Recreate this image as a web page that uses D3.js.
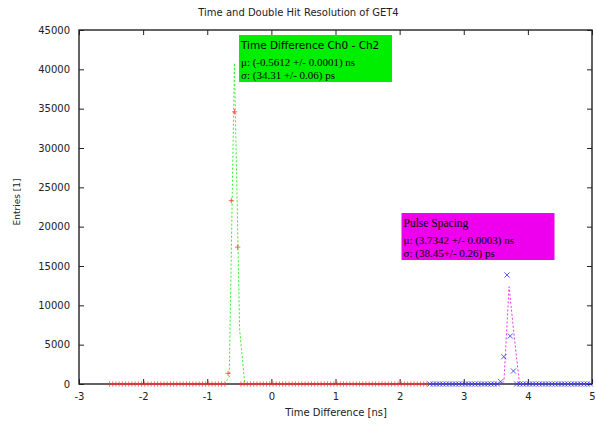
<!DOCTYPE html>
<html>
<head>
<meta charset="utf-8">
<script src="https://cdn.jsdelivr.net/npm/d3@7"></script>
<style>
  html, body { margin: 0; padding: 0; background: #fff; }
  svg { display: block; }
</style>
</head>
<body>
<svg id="chart" width="596" height="424"></svg>
<script>
// ---- data -------------------------------------------------------------
const xTicks = [-3, -2, -1, 0, 1, 2, 3, 4, 5];
const yTicks = [0, 5000, 10000, 15000, 20000, 25000, 30000, 35000, 40000, 45000];

// Histogram: time difference between channel 0 and channel 2 (ns, entries)
const diffX = [
  -2.525,-2.475,-2.425,-2.375,-2.325,-2.275,-2.225,-2.175,-2.125,-2.075,
  -2.025,-1.975,-1.925,-1.875,-1.825,-1.775,-1.725,-1.675,-1.625,-1.575,
  -1.525,-1.475,-1.425,-1.375,-1.325,-1.275,-1.225,-1.175,-1.125,-1.075,
  -1.025,-0.975,-0.925,-0.875,-0.825,-0.775,-0.725,-0.675,-0.625,-0.575,
  -0.525,-0.475,-0.425,-0.375,-0.325,-0.275,-0.225,-0.175,-0.125,-0.075,
  -0.025, 0.025, 0.075, 0.125, 0.175, 0.225, 0.275, 0.325, 0.375, 0.425,
   0.475, 0.525, 0.575, 0.625, 0.675, 0.725, 0.775, 0.825, 0.875, 0.925,
   0.975, 1.025, 1.075, 1.125, 1.175, 1.225, 1.275, 1.325, 1.375, 1.425,
   1.475, 1.525, 1.575, 1.625, 1.675, 1.725, 1.775, 1.825, 1.875, 1.925,
   1.975, 2.025, 2.075, 2.125, 2.175, 2.225, 2.275, 2.325, 2.375, 2.425
];
const diffY = [
  0,0,0,0,0,0,0,0,0,0,
  0,0,0,0,0,0,0,0,0,0,
  0,0,0,0,0,0,0,0,0,0,
  0,0,0,0,0,0,0,1360,23300,34600,
  17400,0,0,0,0,0,0,0,0,0,
  0,0,0,0,0,0,0,0,0,0,
  0,0,0,0,0,0,0,0,0,0,
  0,0,0,0,0,0,0,0,0,0,
  0,0,0,0,0,0,0,0,0,0,
  0,0,0,0,0,0,0,0,0,0
];

// Histogram: spacing between two consecutive pulses (ns, entries)
const pulseX = [
  2.475,2.525,2.575,2.625,2.675,2.725,2.775,2.825,2.875,2.925,
  2.975,3.025,3.075,3.125,3.175,3.225,3.275,3.325,3.375,3.425,
  3.475,3.525,3.575,3.625,3.675,3.725,3.775,3.825,3.875,3.925,
  3.975,4.025,4.075,4.125,4.175,4.225,4.275,4.325,4.375,4.425,
  4.475,4.525,4.575,4.625,4.675,4.725,4.775,4.825,4.875,4.925,
  4.975
];
const pulseY = [
  0,0,0,0,0,0,0,0,0,0,
  0,0,0,0,0,0,0,0,0,0,
  0,0,290,3470,13860,6100,1650,0,0,0,
  0,0,0,0,0,0,0,0,0,0,
  0,0,0,0,0,0,0,0,0,0,
  0
];

// Sampled Gaussian fit curves
const fitDiffX = [-0.737, -0.657, -0.576, -0.495, -0.414];
const fitDiffY = [0, 900, 40800, 6900, 0];
const fitPulseX = [3.545, 3.626, 3.707, 3.788, 3.869, 3.949];
const fitPulseY = [0, 300, 12370, 5980, 60, 0];

const diffLabel = ["Time Difference Ch0 - Ch2", "\u03BC: (-0.5612 +/- 0.0001) ns", "\u03C3: (34.31 +/- 0.06) ps"];
const pulseLabel = ["Pulse Spacing", "\u03BC: (3.7342 +/- 0.0003) ns", "\u03C3: (38.45+/- 0.26) ps"];

// ---- layout -----------------------------------------------------------
const svg = d3.select("#chart");
const W = 596, H = 424;
const m = { left: 79, right: 4, top: 30, bottom: 40 };
const x = d3.scaleLinear().domain([-3, 5]).range([m.left, W - m.right]);
const y = d3.scaleLinear().domain([0, 45000]).range([H - m.bottom, m.top]);

const sans = "DejaVu Sans, sans-serif";
const serif = "Liberation Serif, Times New Roman, serif";
const ink = "#222";
const plain = d => String(d);   // plain hyphen-minus, no thousands separator

svg.append("rect").attr("width", W).attr("height", H).attr("fill", "#fff");

// title
svg.append("text")
  .attr("x", (m.left + W - m.right) / 2 - 37).attr("y", 16)
  .attr("text-anchor", "middle")
  .attr("font-family", sans).attr("font-size", 10).attr("fill", ink)
  .text("Time and Double Hit Resolution of GET4");

// axes (ticks point inward, mirrored on the opposite side)
const tickLen = 5;
function styleAxis(g) {
  g.select(".domain").remove();
  g.selectAll("line").attr("stroke", ink).attr("stroke-width", 1);
  g.selectAll("text").attr("font-family", sans).attr("font-size", 10).attr("fill", ink);
}
svg.append("g").attr("transform", `translate(0,${y(0)})`)
  .call(d3.axisBottom(x).tickValues(xTicks).tickSize(-tickLen).tickPadding(9).tickFormat(plain))
  .call(styleAxis);
svg.append("g").attr("transform", `translate(0,${y(45000)})`)
  .call(d3.axisTop(x).tickValues(xTicks).tickSize(-tickLen).tickFormat(""))
  .call(styleAxis);
svg.append("g").attr("transform", `translate(${x(-3)},0)`)
  .call(d3.axisLeft(y).tickValues(yTicks).tickSize(-tickLen).tickPadding(9).tickFormat(plain))
  .call(styleAxis);
svg.append("g").attr("transform", `translate(${x(5)},0)`)
  .call(d3.axisRight(y).tickValues(yTicks).tickSize(-tickLen).tickFormat(""))
  .call(styleAxis);

// frame
svg.append("rect")
  .attr("x", x(-3)).attr("y", y(45000))
  .attr("width", x(5) - x(-3)).attr("height", y(0) - y(45000))
  .attr("fill", "none").attr("stroke", ink).attr("stroke-width", 1.4);

// axis titles
svg.append("text")
  .attr("x", 336).attr("y", 416).attr("text-anchor", "middle")
  .attr("font-family", sans).attr("font-size", 10).attr("fill", ink)
  .text("Time Difference [ns]");
svg.append("text")
  .attr("transform", `translate(20,${202}) rotate(-90)`)
  .attr("text-anchor", "middle")
  .attr("font-family", sans).attr("font-size", 9).attr("fill", ink)
  .text("Entries [1]");

// fit curves
const line = d3.line().x(d => x(d[0])).y(d => y(d[1]));
svg.append("path")
  .datum(fitDiffX.map((v, i) => [v, fitDiffY[i]]))
  .attr("d", line).attr("fill", "none")
  .attr("stroke", "#33ee33").attr("stroke-width", 1).attr("stroke-dasharray", "2,2");
svg.append("path")
  .datum(fitPulseX.map((v, i) => [v, fitPulseY[i]]))
  .attr("d", line).attr("fill", "none")
  .attr("stroke", "#ee33ee").attr("stroke-width", 1).attr("stroke-dasharray", "2,2");

// histogram points: "+" for time difference, "x" for pulse spacing
const s = 2.6;
svg.append("g").selectAll("path")
  .data(diffX.map((v, i) => [v, diffY[i]]))
  .join("path")
  .attr("d", d => `M${x(d[0]) - s},${y(d[1])}h${2 * s}M${x(d[0])},${y(d[1]) - s}v${2 * s}`)
  .attr("stroke", "#ff3030").attr("stroke-width", 1).attr("stroke-opacity", 0.75).attr("fill", "none");
svg.append("g").selectAll("path")
  .data(pulseX.map((v, i) => [v, pulseY[i]]))
  .join("path")
  .attr("d", d => `M${x(d[0]) - s},${y(d[1]) - s}l${2 * s},${2 * s}M${x(d[0]) - s},${y(d[1]) + s}l${2 * s},${-2 * s}`)
  .attr("stroke", "#3030ff").attr("stroke-width", 1).attr("stroke-opacity", 0.8).attr("fill", "none");

// labelled result boxes
function resultBox(px, py, w, h, fill, lines, firstSans, firstSize) {
  svg.append("rect").attr("x", px).attr("y", py).attr("width", w).attr("height", h).attr("fill", fill);
  const t = svg.append("g").attr("fill", "#000");
  t.append("text").attr("x", px + 2).attr("y", py + 14)
    .attr("font-family", firstSans ? sans : serif).attr("font-size", firstSize)
    .text(lines[0]);
  t.append("text").attr("x", px + 2).attr("y", py + 31)
    .attr("font-family", serif).attr("font-size", 11).text(lines[1]);
  t.append("text").attr("x", px + 2).attr("y", py + 43.5)
    .attr("font-family", serif).attr("font-size", 11).text(lines[2]);
}
resultBox(239, 35, 153, 47, "#00ee00", diffLabel, true, 10.5);
resultBox(401.5, 213, 153, 47, "#ee00ee", pulseLabel, false, 11.5);
</script>
</body>
</html>
